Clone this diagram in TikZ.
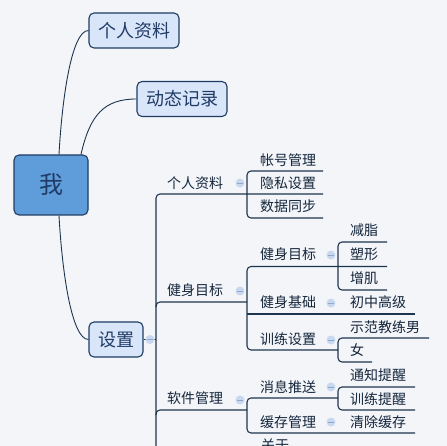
\documentclass[tikz,border=0pt]{standalone}
\usepackage{fontspec}
\setmainfont{Noto Sans CJK SC}
\definecolor{bg}{HTML}{F3F5F9}
\definecolor{linec}{HTML}{1E3550}
\definecolor{boxline}{HTML}{1F3D63}
\definecolor{boxfill}{HTML}{D9E5F8}
\definecolor{rootfill}{HTML}{5F9DDA}
\definecolor{boxtxt}{HTML}{1F3B66}
\definecolor{txt}{HTML}{15263C}
\definecolor{foldc}{HTML}{C8D8EE}
\definecolor{foldm}{HTML}{8FA8CC}
\begin{document}
\begin{tikzpicture}[x=1pt,y=-1pt,
  line/.style={draw=linec, line width=1.1pt, rounded corners=4pt},
  curve/.style={draw=linec, line width=0.9pt},
  topic/.style={font=\fontsize{14}{14}\selectfont, text=txt, inner sep=0pt, anchor=west},
  box/.style={draw=boxline, line width=1.1pt, fill=boxfill, rounded corners=5pt, text=boxtxt,
    font=\fontsize{18}{18}\selectfont, inner sep=0pt, minimum height=35pt},
  fold/.style={circle, fill=foldc, minimum size=9pt, inner sep=0pt,
    path picture={\draw[foldm, line width=0.9pt] ([xshift=-2.6pt]path picture bounding box.center) -- ([xshift=2.6pt]path picture bounding box.center);}}
]
\fill[bg] (0,0) rectangle (447,446);
\useasboundingbox (0,0) rectangle (447,446);

% main nodes
\node[box, fill=rootfill, minimum width=74pt, minimum height=60pt, font=\fontsize{24}{24}\selectfont, text=boxtxt] (root) at (51,185) {我};
\node[box, minimum width=90pt] (p1) at (134,30.5) {个人资料};
\node[box, minimum width=90pt] (p2) at (182,99) {动态记录};
\node[box, minimum width=54pt] (p3) at (116,339.5) {设置};

\draw[curve] ([xshift=8pt]root.north) .. controls +(3,-55) and +(-17,0) .. (p1.west);
\draw[curve] ([xshift=30pt]root.north) .. controls +(9,-40) and +(-32,0) .. (p2.west);
\draw[curve] ([xshift=8pt]root.south) .. controls +(3,55) and +(-17,0) .. (p3.west);

% level 2 spine
\coordinate (s) at (156,339.5);
\coordinate (v2t) at (156,194);
\coordinate (v2b) at (156,470);
\draw[line] (p3.east) -- (s);
\draw[line] (v2b) -- (v2t) -- (323,194);

% 个人资料 group
\coordinate (a1) at (323,171); \coordinate (a2) at (247,171);
\coordinate (a3) at (247,218); \coordinate (a4) at (323,218);
\draw[line] (a1) -- (a2) -- (a3) -- (a4);

% 健身目标 group
\coordinate (b0) at (156,307); \coordinate (b1) at (156,302); \coordinate (b2) at (247,302);
\draw[line] (b0) -- (b1) -- (b2);
\coordinate (c1) at (387,266.5); \coordinate (c2) at (247,266.5);
\coordinate (c3) at (247,350); \coordinate (c4) at (338,350);
\draw[line] (c1) -- (c2) -- (c3) -- (c4);
\coordinate (d1) at (247,314); \coordinate (d2) at (415,314);
\draw[line] (d1) -- (d2);
\coordinate (e1) at (387,242); \coordinate (e2) at (338,242);
\coordinate (e3) at (338,290); \coordinate (e4) at (387,290);
\draw[line] (e1) -- (e2) -- (e3) -- (e4);
\coordinate (f1) at (429,338); \coordinate (f2) at (338,338);
\coordinate (f3) at (338,362); \coordinate (f4) at (372,362);
\draw[line] (f1) -- (f2) -- (f3) -- (f4);

% 软件管理 group
\coordinate (g0) at (156,415); \coordinate (g1) at (156,410); \coordinate (g2) at (247,410);
\draw[line] (g0) -- (g1) -- (g2);
\coordinate (h1) at (338,398); \coordinate (h2) at (247,398);
\coordinate (h3) at (247,433); \coordinate (h4) at (415,433);
\draw[line] (h1) -- (h2) -- (h3) -- (h4);
\coordinate (i1) at (415,387); \coordinate (i2) at (338,387);
\coordinate (i3) at (338,410); \coordinate (i4) at (415,410);
\draw[line] (i1) -- (i2) -- (i3) -- (i4);

% fold markers
\node[fold] (fs) at (150,339.5) {};
\node[fold] (f21) at (240,183) {};
\node[fold] (f22) at (240,291) {};
\node[fold] (f23) at (240,400) {};
\node[fold] (f31) at (331,255) {};
\node[fold] (f32) at (331,303) {};
\node[fold] (f33) at (331,340) {};
\node[fold] (f34) at (331,387) {};
\node[fold] (f35) at (331,422) {};

% level 2 texts
\node[topic] (t21) at (167,183) {个人资料};
\node[topic] (t22) at (167,290) {健身目标};
\node[topic] (t23) at (167,398) {软件管理};

% level 3 texts
\node[topic] (t31) at (260,160) {帐号管理};
\node[topic] (t32) at (260,183) {隐私设置};
\node[topic] (t33) at (260,206) {数据同步};
\node[topic] (t34) at (260,254) {健身目标};
\node[topic] (t35) at (260,302) {健身基础};
\node[topic] (t36) at (260,339) {训练设置};
\node[topic] (t37) at (260,387) {消息推送};
\node[topic] (t38) at (260,422) {缓存管理};
\node[topic] (t39) at (261,445) {关于};

% level 4 texts
\node[topic] (t41) at (350,230) {减脂};
\node[topic] (t42) at (350,254) {塑形};
\node[topic] (t43) at (350,278) {增肌};
\node[topic] (t44) at (350,302) {初中高级};
\node[topic] (t45) at (350,327) {示范教练男};
\node[topic] (t46) at (350,350) {女};
\node[topic] (t47) at (350,375) {通知提醒};
\node[topic] (t48) at (350,399) {训练提醒};
\node[topic] (t49) at (350,422) {清除缓存};
\end{tikzpicture}
\end{document}
